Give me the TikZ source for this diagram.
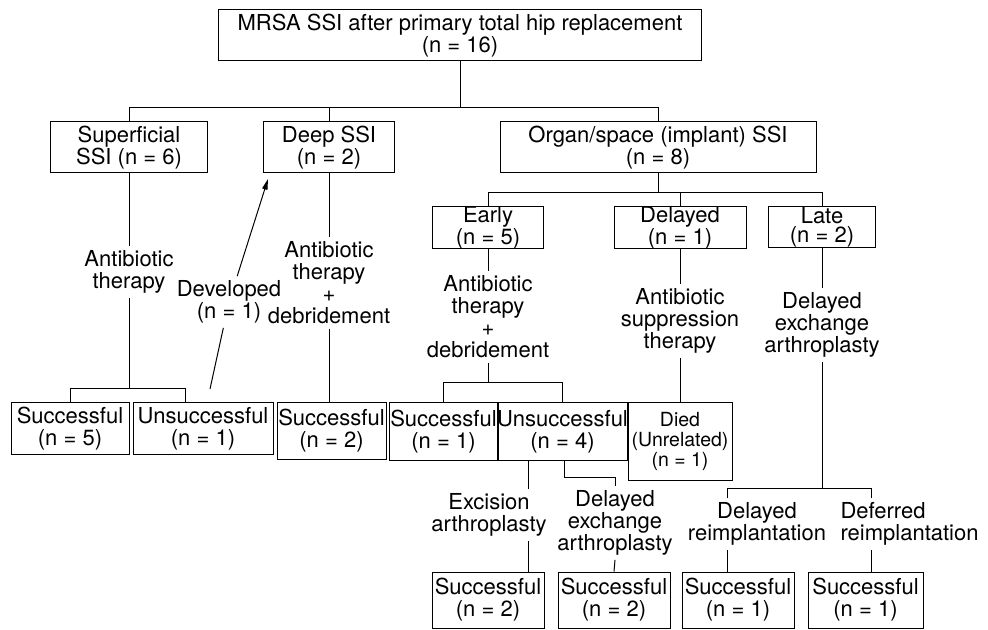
\documentclass[tikz,border=0pt]{standalone}
\usepackage{fontspec}
\setmainfont{TeX Gyre Heros}
\usetikzlibrary{arrows.meta}

\tikzset{every picture/.style={line width=0.75pt}}
\tikzset{
  box/.style={draw, align=center, inner sep=0pt, font=\fontsize{16.5}{16.5}\selectfont},
  tbox/.style={box, font=\fontsize{16.5}{14}\selectfont},
  lbl/.style={align=center, inner sep=3pt, font=\fontsize{16.5}{16.5}\selectfont},
}

\begin{document}
\begin{tikzpicture}[x=0.75pt,y=0.75pt,yscale=-1,xscale=1]
\useasboundingbox (0,0) rectangle (988,630);

%Boxes: top and SSI types
\node[box, minimum width=362.25pt, minimum height=38.6pt] (root) at (460,35.25) {MRSA SSI after primary total hip replacement\\(n = 16)};
\node[box, minimum width=117.75pt, minimum height=38.25pt] (sup) at (129,147.5) {Superficial\\SSI (n = 6)};
\node[box, minimum width=98.25pt, minimum height=38.25pt] (deep) at (329,147.5) {Deep SSI\\(n = 2)};
\node[box, minimum width=237pt, minimum height=38.25pt] (organ) at (658,147.5) {Organ/space (implant) SSI\\(n = 8)};

%Boxes: timing
\node[tbox, minimum width=83.25pt, minimum height=30.75pt] (early) at (488,227.5) {Early\\(n = 5)};
\node[tbox, minimum width=99pt, minimum height=30.75pt] (delayed) at (680,227.5) {Delayed\\(n = 1)};
\node[tbox, minimum width=80.25pt, minimum height=30.75pt] (late) at (822,227.5) {Late\\(n = 2)};

%Boxes: outcomes
\node[box, minimum width=88.5pt, minimum height=38.25pt] (s5) at (70,428.5) {Successful\\(n = 5)};
\node[box, minimum width=105pt, minimum height=38.25pt] (u1) at (203,428.5) {Unsuccessful\\(n = 1)};
\node[box, minimum width=81.75pt, minimum height=42pt] (s2) at (331.5,431) {Successful\\(n = 2)};
\node[box, minimum width=81.75pt, minimum height=42.75pt] (s1) at (443.5,431.5) {Successful\\(n = 1)};
\node[box, minimum width=92.25pt, minimum height=42.75pt] (u4) at (562.5,431.5) {Unsuccessful\\(n = 4)};
\node[box, minimum width=78pt, minimum height=57.75pt, font=\fontsize{14.6}{15}\selectfont] (died) at (680,441.5) {Died\\(Unrelated)\\(n = 1)};
\node[box, minimum width=84pt, minimum height=42pt] (ex) at (488,600) {Successful\\(n = 2)};
\node[box, minimum width=84pt, minimum height=42pt] (de) at (614,600) {Successful\\(n = 2)};
\node[box, minimum width=84pt, minimum height=42pt] (r1) at (738,600) {Successful\\(n = 1)};
\node[box, minimum width=86.25pt, minimum height=42pt] (r2) at (865.5,600) {Successful\\(n = 1)};

%Treatment labels
\node[lbl] (supab) at (129,272) {Antibiotic\\therapy};
\node[lbl] (deepab) at (329,283) {Antibiotic\\therapy\\+\\debridement};
\node[lbl] (dev) at (229,302) {Developed\\(n = 1)};
\node[lbl] (earlyab) at (488,317) {Antibiotic\\therapy\\+\\debridement};
\node[lbl] (delab) at (680,321) {Antibiotic\\suppression\\therapy};
\node[lbl] (lateab) at (822,325) {Delayed\\exchange\\arthroplasty};
\node[lbl] (exab) at (489,515) {Excision\\arthroplasty};
\node[lbl] (deab) at (615,523) {Delayed\\exchange\\arthroplasty};
\node[lbl] (r1ab) at (757,524) {Delayed\\reimplantation};
\node[lbl, align=left, anchor=west] (r2ab) at (836,524) {Deferred\\reimplantation};

%Bus levels
\coordinate (b1) at (0,108);
\coordinate (b2) at (0,193);
\coordinate (b3) at (0,389);
\coordinate (b4) at (0,383);
\coordinate (elb) at (0,477);
\coordinate (exx) at (528,0);
\coordinate (b5) at (727,488);
\coordinate (b6) at (871,488);
\coordinate (devfoot) at (210,389);
\coordinate (devtip) at (268,179);

%Straight Lines
\draw (root.south) -- (root.south |- b1);
\draw (sup.north) -- (sup.north |- b1) -| (organ.north);
\draw (deep.north) -- (deep.north |- b1);

\draw (organ.south) -- (organ.south |- b2);
\draw (early.north) -- (early.north |- b2) -| (late.north);
\draw (delayed.north) -- (delayed.north |- b2);

\draw (sup.south) -- (supab.north);
\draw (supab.south) -- (supab.south |- b3);
\draw (s5.north) -- (s5.north |- b3) -| ([xshift=-13.5pt]u1.north);

\draw (deep.south) -- (deepab.north);
\draw (deepab.south) -- (deepab.south |- s2.north);

\draw (devfoot) -- (dev);
\draw [-{Triangle[length=8pt,width=4pt]}] (dev) -- (devtip);

\draw (early.south) -- (earlyab.north);
\draw (earlyab.south) -- (earlyab.south |- b4);
\draw (s1.north) -- (s1.north |- b4) -| (u4.north);

\draw (u4.south -| exx) -- (exab.north -| exx);
\draw (exab.south -| exx) -- (ex.north -| exx);
\draw ([xshift=1.5pt]u4.south) -- ([xshift=1.5pt]u4.south |- elb) -| (deab.north);
\draw (deab.south) -- (de.north);

\draw (delayed.south) -- (delab.north);
\draw (delab.south) -- (died.north);

\draw (late.south) -- (lateab.north);
\draw (lateab.south) -- (lateab.south |- b5);
\draw (b5 |- r1ab.north) -- (b5) -- (b6) -- (b6 |- r2ab.north);
\draw (b5 |- r1ab.south) -- (b5 |- r1.north);
\draw (b6 |- r2ab.south) -- (b6 |- r2.north);

\end{tikzpicture}
\end{document}
